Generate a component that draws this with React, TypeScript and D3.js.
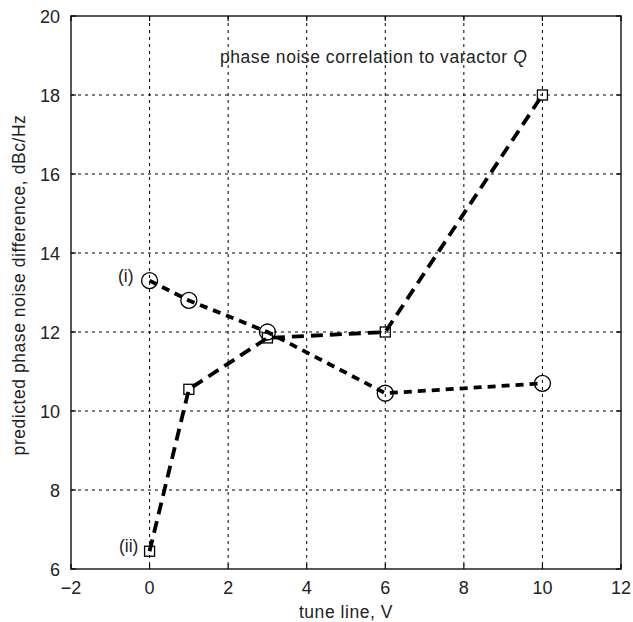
import React from "react";
import * as d3 from "d3";

const xTicks = [-2, 0, 2, 4, 6, 8, 10, 12];
const yTicks = [6, 8, 10, 12, 14, 16, 18, 20];
const xTickLabels = ["\u22122", "0", "2", "4", "6", "8", "10", "12"];
const tuneV = [0, 1, 3, 6, 10];
const seriesI = [13.3, 12.8, 12.0, 10.45, 10.7];
const seriesII = [6.45, 10.55, 11.85, 12.0, 18.0];

const W = 633, H = 622;
const L = 71, R = 621, T = 16, B = 569;
const font = "'Liberation Sans', Arial, Helvetica, sans-serif";
const ls = 0.55;

export default function App() {
  const x = d3.scaleLinear().domain([-2, 12]).range([L, R]);
  const y = d3.scaleLinear().domain([6, 20]).range([B, T]);
  const line = d3.line<number>().x((_, i) => x(tuneV[i])).y((d) => y(d));
  return (
    <svg width={W} height={H} style={{ position: "absolute", left: 0, top: 0 }}>
      <rect width={W} height={H} fill="#fff" />
      {xTicks.slice(1, -1).map((t) => (
        <line key={"gx" + t} x1={x(t)} x2={x(t)} y1={T} y2={B} stroke="#000" strokeWidth={1} strokeDasharray="3,4" />
      ))}
      {yTicks.slice(1, -1).map((t) => (
        <line key={"gy" + t} x1={L} x2={R} y1={y(t)} y2={y(t)} stroke="#000" strokeWidth={1} strokeDasharray="3,4" />
      ))}
      <rect x={L} y={T} width={R - L} height={B - T} fill="none" stroke="#222" strokeWidth={1.5} />
      {xTicks.map((t) => (
        <g key={"tx" + t}>
          <line x1={x(t)} x2={x(t)} y1={B} y2={B - 5} stroke="#000" strokeWidth={1.2} />
          <line x1={x(t)} x2={x(t)} y1={T} y2={T + 5} stroke="#000" strokeWidth={1.2} />
        </g>
      ))}
      {yTicks.map((t) => (
        <g key={"ty" + t}>
          <line x1={L} x2={L + 5} y1={y(t)} y2={y(t)} stroke="#000" strokeWidth={1.2} />
          <line x1={R} x2={R - 5} y1={y(t)} y2={y(t)} stroke="#000" strokeWidth={1.2} />
        </g>
      ))}
      {xTicks.map((t, i) => (
        <text key={"lx" + t} x={x(t)} y={B + 25} textAnchor="middle" fontFamily={font} fontSize={18} fill="#222">
          {xTickLabels[i]}
        </text>
      ))}
      {yTicks.map((t) => (
        <text key={"ly" + t} x={L - 11} y={y(t) + 7} textAnchor="end" fontFamily={font} fontSize={18} fill="#222">
          {t}
        </text>
      ))}
      <text x={(L + R) / 2} y={618} textAnchor="middle" fontFamily={font} fontSize={17.5} letterSpacing={ls} fill="#222">tune line, V</text>
      <text transform={`translate(25,285) rotate(-90)`} textAnchor="middle" fontFamily={font} fontSize={17.5} letterSpacing={ls} fill="#222">
        predicted phase noise difference, dBc/Hz
      </text>
      <text x={220} y={63} fontFamily={font} fontSize={17.5} letterSpacing={ls} fill="#222">
        phase noise correlation to varactor <tspan fontStyle="italic">Q</tspan>
      </text>
      <text x={118} y={282} fontFamily={font} fontSize={17.5} fill="#222">(i)</text>
      <text x={119} y={552} fontFamily={font} fontSize={17.5} fill="#222">(ii)</text>
      <path d={line(seriesI) || ""} fill="none" stroke="#000" strokeWidth={3.8} strokeDasharray="8,6" />
      <path d={line(seriesII) || ""} fill="none" stroke="#000" strokeWidth={3.8} strokeDasharray="12,7" />
      {seriesI.map((v, i) => (
        <circle key={"c" + i} cx={x(tuneV[i])} cy={y(v)} r={8} fill="none" stroke="#000" strokeWidth={1.3} />
      ))}
      {seriesII.map((v, i) => (
        <rect key={"s" + i} x={x(tuneV[i]) - 5} y={y(v) - 5} width={10} height={10} fill="none" stroke="#000" strokeWidth={1.3} />
      ))}
    </svg>
  );
}
